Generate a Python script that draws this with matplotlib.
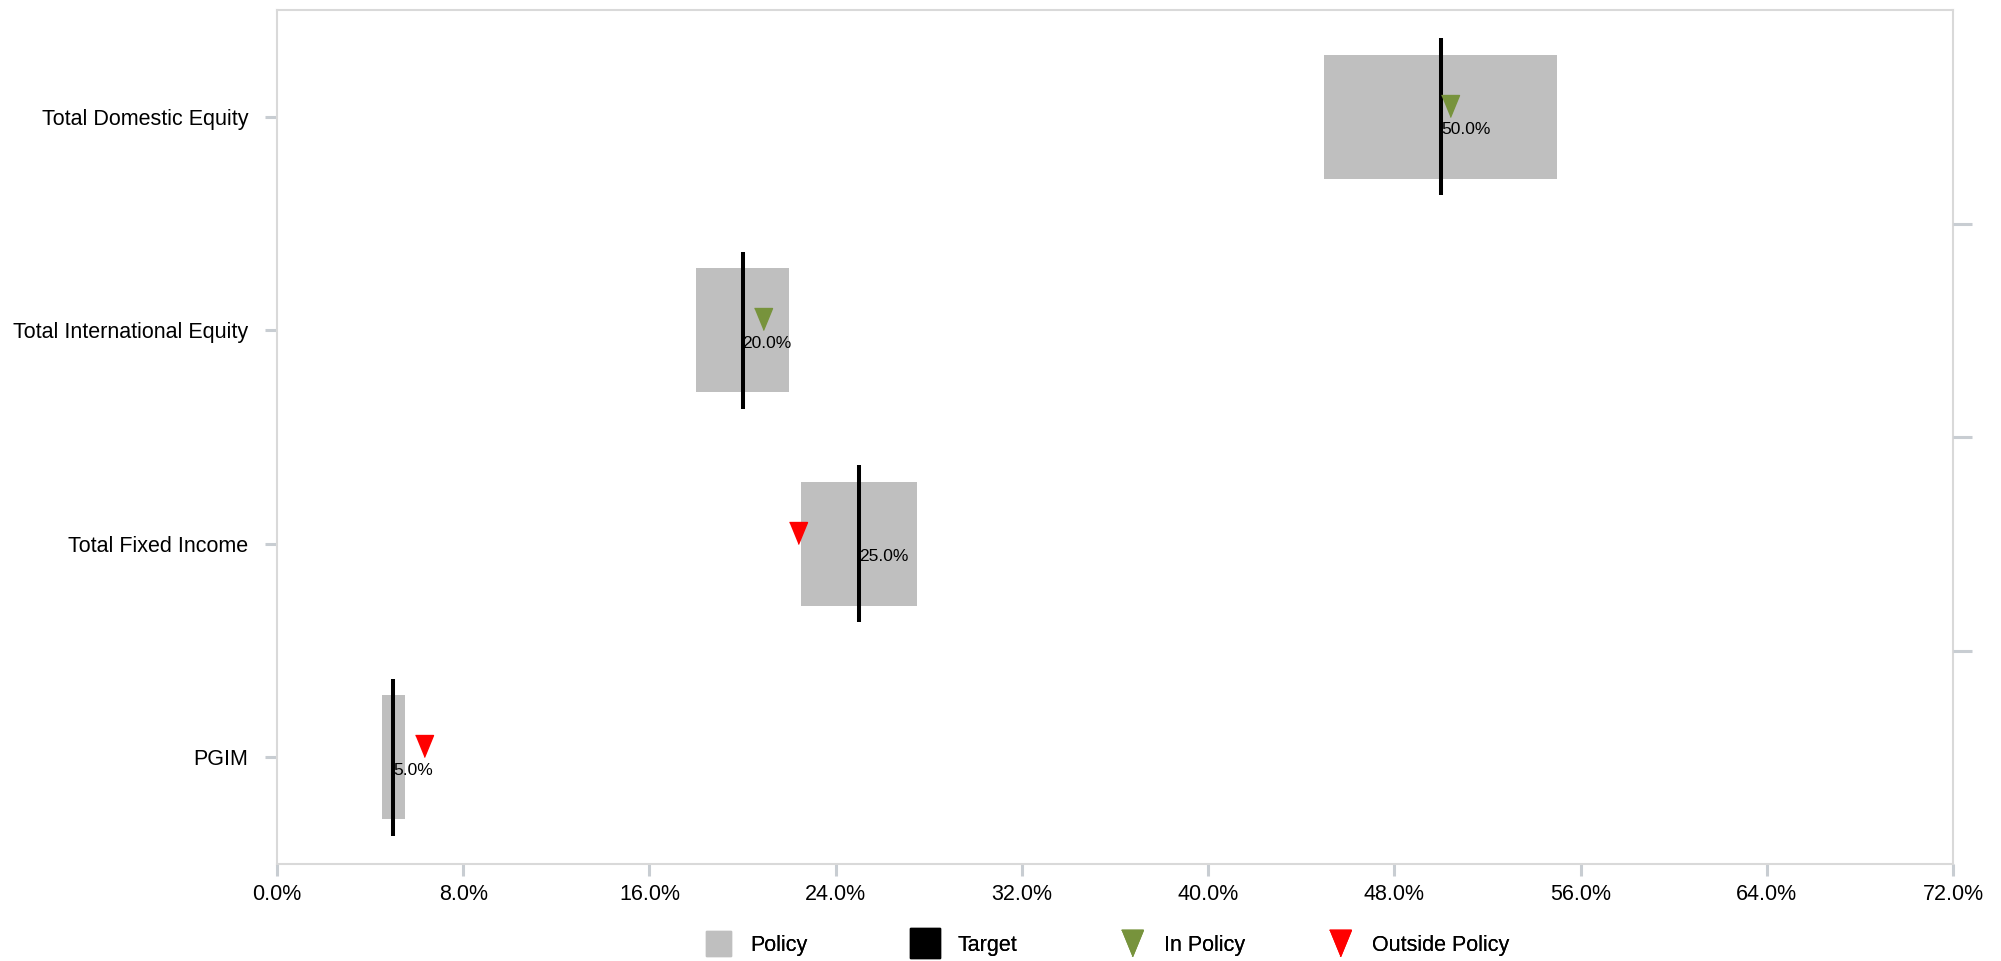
import matplotlib
matplotlib.use("Agg")
import matplotlib.pyplot as plt
from matplotlib.lines import Line2D

plt.rcParams['font.family'] = ['Liberation Sans', 'DejaVu Sans']

# данные
categories = ["PGIM", "Total Fixed Income", "Total International Equity", "Total Domestic Equity"]
policy_min = [4.5, 22.5, 18.0, 45.0]
policy_max = [5.5, 27.5, 22.0, 55.0]
target = [5.0, 25.0, 20.0, 50.0]
actual = [6.3, 22.4, 20.9, 50.4]
x_ticks = [0, 8, 16, 24, 32, 40, 48, 56, 64, 72]

GREY = "#BFBFBF"
GREEN = "#77933C"
RED = "#FF0000"
AXIS = "#D9D9D9"
TICK = "#C8CDD2"
TRI = [(-0.41, 0.5), (0.41, 0.5), (0, -0.5)]

fig = plt.figure(figsize=(20.01, 9.61), dpi=100)
ax = fig.add_axes([0.1384, 0.1009, 0.976 - 0.1384, 0.9896 - 0.1009])

ypos = list(range(len(categories)))

# коридор политики
ax.barh(ypos, [hi - lo for lo, hi in zip(policy_min, policy_max)], left=policy_min,
        height=0.58, color=GREY, lw=0, zorder=1)

# целевые значения
ax.vlines(target, [y - 0.367 for y in ypos], [y + 0.367 for y in ypos],
          color="black", lw=2.9, zorder=2)

# фактические значения
for y, a, lo, hi, t in zip(ypos, actual, policy_min, policy_max, target):
    c = GREEN if lo <= a <= hi else RED
    ax.plot(a, y + 0.052, marker=TRI, markersize=15.8, color=c, ls="none", zorder=3)
    ax.text(t, y - 0.06, f"{t:.1f}%", ha="left", va="center", fontsize=12.5, zorder=4)

ax.set_xlim(0, 72)
ax.set_ylim(-0.5, 3.5)
ax.set_xticks(x_ticks)
ax.set_xticklabels([f"{v:.1f}%" for v in x_ticks])
ax.set_yticks(ypos)
ax.set_yticklabels(categories)
ax.tick_params(axis="x", length=8.6, width=2.2, color=TICK, pad=6, labelsize=15.5)
ax.tick_params(axis="y", length=8.6, width=2.2, color=TICK, pad=12, labelsize=15.5)
for s in ax.spines.values():
    s.set_color(AXIS)
    s.set_linewidth(1.5)

# правая ось с делениями между категориями
ax2 = ax.twinx()
ax2.set_ylim(-0.5, 3.5)
ax2.set_yticks([0.5, 1.5, 2.5])
ax2.set_yticklabels([])
ax2.tick_params(axis="y", length=14, width=2.2, color=TICK)
for s in ax2.spines.values():
    s.set_visible(False)

# легенда
handles = [
    Line2D([], [], marker="s", ls="none", color=GREY, markersize=18),
    Line2D([], [], marker="s", ls="none", color="black", markersize=21),
    Line2D([], [], marker=TRI, ls="none", color=GREEN, markersize=19),
    Line2D([], [], marker=TRI, ls="none", color=RED, markersize=19),
]
labels = ["Policy", "Target", "In Policy", "Outside Policy"]
centers = [718, 925, 1132, 1340]
fs_px = 15.5 * 100 / 72
for h, lab, cx in zip(handles, labels, centers):
    leg = fig.legend([h], [lab], loc="center left", frameon=False, fontsize=15.5,
                     handlelength=1.0, handletextpad=1.0, borderpad=0, borderaxespad=0,
                     bbox_to_anchor=((cx - fs_px * 0.5) / 2001, 1 - 945 / 961))
    fig.add_artist(leg)

fig.savefig("out.png", dpi=100, facecolor="white")
